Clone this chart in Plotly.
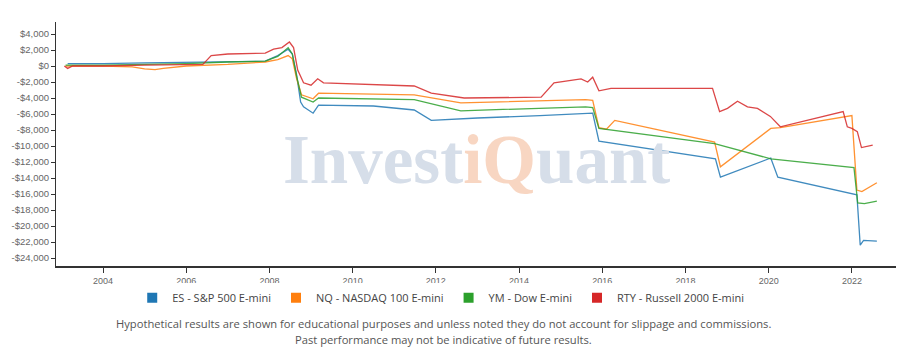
import plotly.graph_objects as go

# ---------------- data ----------------
es_x = [2003.15, 2004.0, 2005.0, 2006.0, 2007.0, 2007.9, 2008.2, 2008.45, 2008.55, 2008.65,
        2008.75, 2008.82, 2009.05, 2009.18, 2010.5, 2011.48, 2011.89, 2013.0, 2014.5, 2015.6,
        2015.77, 2015.92, 2018.72, 2018.84, 2020.05, 2020.22, 2022.12, 2022.2, 2022.28, 2022.6]
es_y = [300, 300, 400, 500, 600, 600, 1300, 2100, 1500, -1000,
        -4500, -5100, -5900, -4900, -5000, -5500, -6800, -6500, -6200, -6000,
        -5900, -9400, -11600, -13900, -11500, -13900, -16100, -22400, -21800, -21900]

nq_x = [2003.1, 2004.0, 2004.7, 2005.0, 2005.25, 2005.45, 2006.0, 2006.5, 2007.0, 2007.9, 2008.2,
        2008.45, 2008.55, 2008.65, 2008.77, 2009.05, 2009.18, 2011.48, 2012.6, 2015.6, 2015.77,
        2015.92, 2016.1, 2016.3, 2018.7, 2018.84, 2020.05, 2020.28, 2021.85, 2022.0, 2022.12,
        2022.24, 2022.6]
nq_y = [0, 0, -100, -350, -450, -300, 0, 100, 200, 500, 800,
        1300, 900, -1500, -3600, -4100, -3400, -3600, -4600, -4200, -4300,
        -7700, -7900, -6800, -9500, -12600, -7800, -7700, -6300, -6200, -15500,
        -15700, -14600]

ym_x = [2003.1, 2004.0, 2005.0, 2006.0, 2007.0, 2007.9, 2008.2, 2008.45, 2008.55, 2008.65,
        2008.77, 2009.05, 2009.18, 2011.48, 2012.6, 2015.6, 2015.77, 2015.92, 2018.7, 2020.05,
        2022.05, 2022.14, 2022.3, 2022.6]
ym_y = [100, 100, 200, 300, 500, 600, 1200, 2300, 1500, -1200,
        -3900, -4500, -4000, -4200, -5600, -5100, -5200, -7800, -9700, -11600,
        -12700, -17100, -17200, -16900]

rty_x = [2003.07, 2003.15, 2003.27, 2004.0, 2005.0, 2006.4, 2006.6, 2007.0, 2007.9, 2008.1,
         2008.3, 2008.48, 2008.58, 2008.68, 2008.82, 2009.0, 2009.16, 2009.3, 2011.48, 2011.89,
         2012.68, 2014.53, 2014.84, 2015.49, 2015.65, 2015.77, 2015.92, 2016.21, 2018.65, 2018.82,
         2019.01, 2019.25, 2019.49, 2019.73, 2020.04, 2020.28, 2021.79, 2021.89, 2022.0, 2022.13,
         2022.23, 2022.5]
rty_y = [0, -300, 0, 0, 100, 200, 1300, 1500, 1600, 2100,
         2300, 3000, 2300, -500, -2100, -2400, -1600, -2100, -2500, -3400,
         -4000, -3900, -2100, -1600, -2000, -1400, -3100, -2800, -2800, -5700,
         -5300, -4400, -5100, -5300, -6300, -7600, -5700, -7600, -7800, -8200,
         -10200, -9900]

series_names = ["ES - S&P 500 E-mini", "NQ - NASDAQ 100 E-mini", "YM - Dow E-mini",
                "RTY - Russell 2000 E-mini"]
series_colors = ["#1f77b4", "#ff7f0e", "#2ca02c", "#d62728"]
series_x = [es_x, nq_x, ym_x, rty_x]
series_y = [es_y, nq_y, ym_y, rty_y]

y_tick_vals = [4000, 2000, 0, -2000, -4000, -6000, -8000, -10000, -12000, -14000,
               -16000, -18000, -20000, -22000, -24000]
y_tick_text = [("-$" if v < 0 else "$") + f"{abs(v):,}" for v in y_tick_vals]
x_tick_vals = [2004, 2006, 2008, 2010, 2012, 2014, 2016, 2018, 2020, 2022]

footnote1 = ("Hypothetical results are shown for educational purposes and unless noted "
             "they do not account for slippage and commissions.")
footnote2 = "Past performance may not be indicative of future results."

# ---------------- figure ----------------
fig = go.Figure()

for name, col, xs, ys in zip(series_names, series_colors, series_x, series_y):
    fig.add_trace(go.Scatter(x=xs, y=ys, mode="lines", name=name, showlegend=False,
                             line=dict(color=col, width=1.3), opacity=0.85,
                             hoverinfo="skip"))

# legend entries with square swatches
for name, col in zip(series_names, series_colors):
    fig.add_trace(go.Scatter(x=[None], y=[None], mode="markers", name=name,
                             marker=dict(symbol="square", size=10, color=col)))

# watermark
fig.add_annotation(
    xref="paper", yref="paper", x=0.501, y=0.436, xanchor="center", yanchor="middle",
    showarrow=False,
    text=("<b><span style='color:#d6dee9'>Invest</span>"
          "<span style='color:#f8d6c2'>iQ</span>"
          "<span style='color:#d6dee9'>uant</span></b>"),
    font=dict(family="Liberation Serif", size=69, color="#d6dee9"),
)

fig.add_annotation(xref="paper", yref="paper", x=0.461, y=-0.234, xanchor="center",
                   yanchor="middle", showarrow=False, text=footnote1,
                   font=dict(family="Open Sans", size=11.2, color="#555555"))
fig.add_annotation(xref="paper", yref="paper", x=0.461, y=-0.303, xanchor="center",
                   yanchor="middle", showarrow=False, text=footnote2,
                   font=dict(family="Open Sans", size=11.2, color="#555555"))

fig.update_layout(
    width=917, height=362,
    margin=dict(l=54, r=21, t=22, b=96),
    paper_bgcolor="white", plot_bgcolor="white",
    font=dict(family="Open Sans", color="#555555"),
    showlegend=True,
    legend=dict(orientation="h", x=0.458, xanchor="center", y=-0.13, yanchor="middle",
                font=dict(family="Open Sans", size=11, color="#444444"),
                itemwidth=30, tracegroupgap=0),
    xaxis=dict(range=[2002.87, 2023.06], tickvals=x_tick_vals, tickformat="d",
               showgrid=False, zeroline=False, showline=True, linecolor="#333333",
               linewidth=2, ticks="outside", ticklen=5, tickcolor="#333333",
               tickfont=dict(family="Liberation Sans", size=9, color="#666666")),
    yaxis=dict(range=[-25000, 5500], tickvals=y_tick_vals, ticktext=y_tick_text,
               showgrid=False, zeroline=False, showline=True, linecolor="#333333",
               linewidth=1, ticks="outside", ticklen=4, tickcolor="#333333",
               tickfont=dict(family="Liberation Sans", size=9.5, color="#666666")),
)

fig.write_html("out.html")
